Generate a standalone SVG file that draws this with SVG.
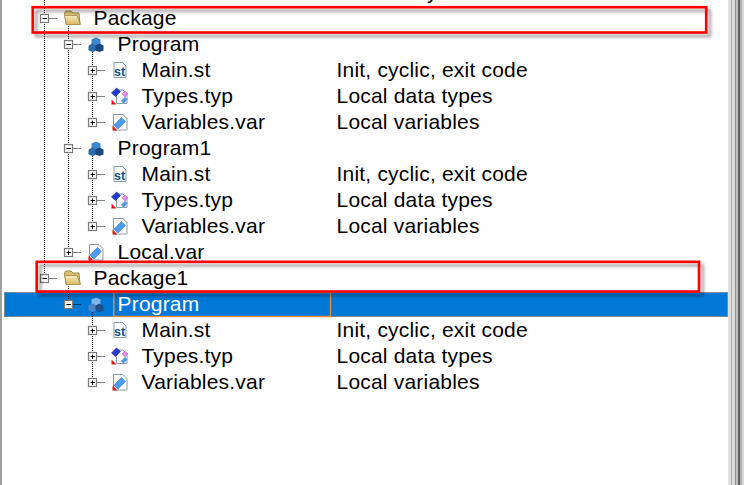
<svg xmlns="http://www.w3.org/2000/svg" width="744" height="485" viewBox="0 0 744 485">
<style>
text{font-family:"Liberation Sans",Arial,sans-serif;font-size:21px;letter-spacing:.2px;fill:#000}
.sel{fill:#fff}
.dot{stroke:#000;stroke-width:1;stroke-dasharray:1 1;fill:none}
.box{fill:#fff;stroke:#7a7a7a;stroke-width:1.2}
.sign{stroke:#000;stroke-width:1;fill:none}
.red{fill:none;stroke:#f00;stroke-width:2.6;filter:url(#sh)}
.page{fill:#fff;stroke:#8a9aa8;stroke-width:1}
</style>
<defs>
<filter id="sh" x="-2%" y="-40%" width="104%" height="190%"><feDropShadow dx="3.500" dy="3.500" stdDeviation="1.800" flood-color="#000" flood-opacity=".38"/></filter>
<linearGradient id="fg" x1="0" y1="0" x2="0" y2="1"><stop offset="0" stop-color="#f8ecc0"/><stop offset="1" stop-color="#dcb860"/></linearGradient>
<g id="plus"><rect class="box" x="-4" y="-4" width="8" height="8"/><path class="sign" d="M-2 0H2.500M0 -2V2.500"/><path class="dot" d="M5 0H12"/></g>
<g id="minus"><rect class="box" x="-4" y="-4" width="8" height="8"/><path class="sign" d="M-2 0H2.500"/><path class="dot" d="M5 0H12"/></g>
<g id="folder"><path d="M-7.500 -5l1.500-2h5l2 2h6l1 11h-14z" fill="#dcc070" stroke="#9a8a50"/><path d="M-7.500 -2.500h12.500l3.500 9h-14z" fill="url(#fg)" stroke="#a08c50" stroke-width=".8"/></g>
<g id="prog"><path d="M0 -6.500l4.500 2v4.500l-4.500 2-4.500-2v-4.500z" fill="#3f86d0"/><path d="M-3.500 -0.500l4 2v5l-4 1.500-4-1.500v-5z" fill="#2b6cb0"/><path d="M3.500 -0.500l4 2v5l-4 1.500-4-1.500v-5z" fill="#17487f"/></g>
<g id="progsel"><path d="M0 -6.500l4.500 2v4.500l-4.500 2-4.500-2v-4.500z" fill="#7fb4e8"/><path d="M-3.500 -0.500l4 2v5l-4 1.500-4-1.500v-5z" fill="#4a86c4"/><path d="M3.500 -0.500l4 2v5l-4 1.500-4-1.500v-5z" fill="#1c4f8a"/></g>
<g id="st"><path class="page" d="M-6 -7.500H2.500L6 -4V7.500H-6z"/><text x="-6" y="5.500" style="font-size:12.500px;font-weight:bold;letter-spacing:0;fill:#1a4f86">st</text></g>
<g id="typ"><path class="page" d="M-3.500 -6H3L7 -2V7.500H-3.500z"/><path d="M-8.500 -3l5-5 4 3.500-5 5z" fill="#2438e0" stroke="#1a2060" stroke-width=".6"/><path d="M2 -2l3-3 3 3-3 3z" fill="#e888e8" stroke="#906090" stroke-width=".4"/><path d="M1 5l4-4 2.500 2.500-4 4z" fill="#4a98e0"/><path d="M-8.500 8.500v-5l5 5z" fill="#d81818"/></g>
<g id="var"><path class="page" d="M-6.500 -7.500H3l4 4V8H-6.500z"/><path d="M-6 3l7.500-7.500 4 4L-2 7z" fill="#4a9cf0" stroke="#3070c0" stroke-width=".5"/><path d="M-7.500 8.500v-5l5 5z" fill="#d81818"/></g>
</defs>
<rect width="744" height="485" fill="#fff"/>
<g id="frame">
<rect x="0" y="0" width="2" height="485" fill="#a0a0a0"/>
<rect x="728" y="0" width="3" height="485" fill="#e0e0e0"/>
<rect x="731" y="0" width="1" height="485" fill="#a8a8a8"/>
<rect x="732" y="0" width="3" height="485" fill="#dcdcdc"/>
<rect x="735" y="0" width="1" height="485" fill="#909090"/>
<rect x="736" y="0" width="2" height="485" fill="#c0c0c0"/>
<rect x="738" y="0" width="2" height="485" fill="#606060"/>
<rect x="740" y="0" width="2" height="485" fill="#b0b0b0"/>
<rect x="742" y="0" width="2" height="485" fill="#d8d8d8"/>
</g>
<g id="selection">
<rect x="4" y="292" width="724" height="25" fill="#0078d7"/>
<rect x="4.500" y="292.500" width="723" height="24" fill="none" stroke="#f0a050" stroke-dasharray="1 1"/>
<rect x="113.800" y="292.500" width="216.700" height="24" fill="none" stroke="#f08a30" stroke-width="1.400"/>
</g>
<g id="connectors">
<path class="dot" d="M44.500 0V278M68.500 24V252M92.500 50V122M92.500 154V226M68.500 284V304M92.500 310V382"/>
</g>
<text x="427" y="-1">y</text>
<g id="Package"><use href="#minus" x="44.500" y="18.500"/><use href="#folder" x="72" y="18"/><text x="93.500" y="25">Package</text></g>
<g id="Program"><use href="#minus" x="68.500" y="44.500"/><use href="#prog" x="96" y="44"/><text x="117.500" y="51">Program</text></g>
<g id="Main1"><use href="#plus" x="92.500" y="70.500"/><use href="#st" x="120" y="70"/><text x="141.500" y="77">Main.st</text><text x="336.500" y="77">Init, cyclic, exit code</text></g>
<g id="Types1"><use href="#plus" x="92.500" y="96.500"/><use href="#typ" x="120" y="96"/><text x="141.500" y="103">Types.typ</text><text x="336.500" y="103">Local data types</text></g>
<g id="Vars1"><use href="#plus" x="92.500" y="122.500"/><use href="#var" x="120" y="122"/><text x="141.500" y="129">Variables.var</text><text x="336.500" y="129">Local variables</text></g>
<g id="Program1"><use href="#minus" x="68.500" y="148.500"/><use href="#prog" x="96" y="148"/><text x="117.500" y="155">Program1</text></g>
<g id="Main2"><use href="#plus" x="92.500" y="174.500"/><use href="#st" x="120" y="174"/><text x="141.500" y="181">Main.st</text><text x="336.500" y="181">Init, cyclic, exit code</text></g>
<g id="Types2"><use href="#plus" x="92.500" y="200.500"/><use href="#typ" x="120" y="200"/><text x="141.500" y="207">Types.typ</text><text x="336.500" y="207">Local data types</text></g>
<g id="Vars2"><use href="#plus" x="92.500" y="226.500"/><use href="#var" x="120" y="226"/><text x="141.500" y="233">Variables.var</text><text x="336.500" y="233">Local variables</text></g>
<g id="Local"><use href="#plus" x="68.500" y="252.500"/><use href="#var" x="96" y="252"/><text x="117.500" y="259">Local.var</text></g>
<g id="Package1"><use href="#minus" x="44.500" y="278.500"/><use href="#folder" x="72" y="278"/><text x="93.500" y="285">Package1</text></g>
<g id="Program2"><use href="#minus" x="68.500" y="304.500"/><use href="#progsel" x="96" y="304"/><text class="sel" x="117.500" y="311">Program</text></g>
<g id="Main3"><use href="#plus" x="92.500" y="330.500"/><use href="#st" x="120" y="330"/><text x="141.500" y="337">Main.st</text><text x="336.500" y="337">Init, cyclic, exit code</text></g>
<g id="Types3"><use href="#plus" x="92.500" y="356.500"/><use href="#typ" x="120" y="356"/><text x="141.500" y="363">Types.typ</text><text x="336.500" y="363">Local data types</text></g>
<g id="Vars3"><use href="#plus" x="92.500" y="382.500"/><use href="#var" x="120" y="382"/><text x="141.500" y="389">Variables.var</text><text x="336.500" y="389">Local variables</text></g>
<g id="highlights">
<rect class="red" x="32.700" y="7.200" width="673.500" height="25.300"/>
<rect class="red" x="36.700" y="261.800" width="662.300" height="29.700"/>
</g>
</svg>
